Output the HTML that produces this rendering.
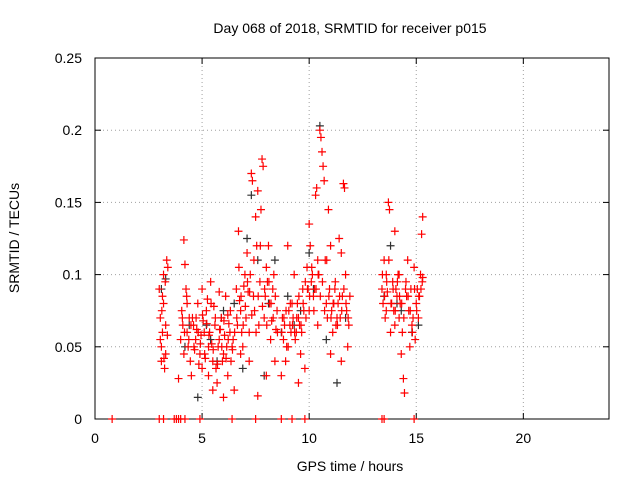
<!DOCTYPE html>
<html><head><meta charset="utf-8">
<style>
html,body{margin:0;padding:0;background:#fff;}
svg{display:block;font-family:"Liberation Sans",sans-serif;}
</style></head>
<body>
<svg id="chart" width="640" height="480" viewBox="0 0 640 480">
<rect x="0" y="0" width="640" height="480" fill="#fff"/>
<text x="350" y="33" text-anchor="middle" font-size="14" fill="#000">Day 068 of 2018, SRMTID for receiver p015</text>
<g id="grid"></g>
<g id="axes"></g>
<g id="marks"></g>
<text x="350" y="471" text-anchor="middle" font-size="14">GPS time / hours</text>
<text transform="translate(19,238) rotate(-90)" text-anchor="middle" font-size="14">SRMTID / TECUs</text>
</svg>
<script>
const xTicks=[0,5,10,15,20];
const yTicks=[0,0.05,0.1,0.15,0.2,0.25];
const yTickLabels=["0","0.05","0.1","0.15","0.2","0.25"];
const redTimes=[3.0,3.05,3.1,3.1,3.15,3.2,3.25,3.3,3.35,3.4,3.3,3.2,3.15,
4.0,4.05,4.1,4.15,4.2,4.25,4.3,4.35,4.4,4.45,4.5,4.3,4.15,3.9,4.6,4.7,4.8,4.9,5.0,5.0,5.1,5.2,5.3,5.4,5.5,5.6,5.7,5.8,5.9,6.0,6.1,6.2,6.3,6.4,6.5,5.5,6.0,5.3,5.8,6.2,
4.55,4.65,4.75,4.85,4.95,5.05,5.15,5.25,5.35,5.45,5.55,5.65,5.75,5.85,5.95,6.05,6.15,6.25,6.35,6.45,
6.6,6.7,6.8,6.9,7.0,7.1,7.2,7.3,7.35,7.4,7.5,7.55,7.6,7.7,7.75,7.8,7.85,7.9,8.0,8.1,8.2,8.3,8.4,8.5,8.0,7.2,6.8,7.6,
6.65,6.75,6.85,6.95,7.05,7.15,7.25,7.45,7.65,7.95,8.05,8.15,8.25,8.35,8.45,
8.7,8.8,8.9,9.0,9.1,9.2,9.3,9.4,9.5,9.6,9.7,9.8,9.9,10.0,10.05,10.1,10.2,10.3,10.35,10.4,10.5,10.55,10.6,10.65,10.7,10.8,10.9,11.0,11.1,11.2,11.3,11.4,11.5,11.6,11.65,11.7,11.8,11.9,11.5,11.0,10.4,10.0,9.5,
8.75,8.85,8.95,9.05,9.15,9.25,9.35,9.45,9.55,9.65,9.75,9.85,9.95,10.15,10.25,10.45,10.75,10.85,10.95,11.05,11.15,11.25,11.35,11.45,11.55,11.75,11.85,
13.4,13.5,13.6,13.7,13.75,13.8,13.9,14.0,14.1,14.2,14.3,14.4,14.45,14.5,14.6,14.7,14.8,14.9,15.0,15.1,15.2,15.3,15.25,15.3,14.2,13.6,14.0,
13.45,13.55,13.65,13.85,13.95,14.05,14.15,14.25,14.35,14.55,14.65,14.75,14.85,14.95,15.05,15.15,
3.05,3.12,3.22,3.28,3.38,4.08,4.18,4.28,4.38,4.48,4.62,4.72,4.82,4.92,5.02,5.12,5.22,5.32,5.42,5.52,5.62,5.72,5.82,5.92,6.02,6.12,6.22,6.32,6.42,6.52,
6.62,6.72,6.82,6.92,7.02,7.12,7.22,7.32,7.42,7.52,7.62,7.72,7.82,7.92,8.02,8.12,8.22,8.32,8.42,8.52,
8.72,8.82,8.92,9.02,9.12,9.22,9.32,9.42,9.52,9.62,9.72,9.82,9.92,10.02,10.12,10.22,10.32,10.42,10.52,10.62,10.72,10.82,10.92,11.02,11.12,11.22,11.32,11.42,11.52,11.62,11.72,11.82,
13.42,13.52,13.62,13.72,13.82,13.92,14.02,14.12,14.22,14.32,14.42,14.52,14.62,14.72,14.82,14.92,15.02,15.12,15.22,15.28];
const redValues=[0.09,0.07,0.05,0.04,0.06,0.08,0.035,0.045,0.11,0.105,0.065,0.1,0.085,
0.055,0.075,0.065,0.124,0.107,0.09,0.06,0.05,0.07,0.04,0.03,0.08,0.045,0.028,0.065,0.055,0.08,0.045,0.035,0.09,0.06,0.075,0.05,0.095,0.04,0.065,0.025,0.055,0.07,0.045,0.085,0.03,0.06,0.05,0.02,0.02,0.015,0.03,0.088,0.072,
0.07,0.048,0.062,0.038,0.058,0.068,0.042,0.083,0.06,0.052,0.078,0.035,0.05,0.062,0.04,0.058,0.05,0.066,0.04,0.055,
0.09,0.13,0.075,0.05,0.1,0.115,0.06,0.17,0.165,0.085,0.14,0.12,0.158,0.095,0.145,0.18,0.175,0.07,0.105,0.12,0.055,0.09,0.04,0.075,0.03,0.04,0.045,0.016,
0.065,0.082,0.06,0.092,0.07,0.088,0.1,0.075,0.065,0.085,0.095,0.08,0.068,0.1,0.062,
0.03,0.055,0.04,0.12,0.065,0.08,0.1,0.06,0.07,0.045,0.09,0.035,0.105,0.135,0.12,0.095,0.085,0.155,0.16,0.11,0.2,0.195,0.185,0.175,0.165,0.08,0.145,0.12,0.06,0.09,0.07,0.125,0.115,0.163,0.16,0.1,0.05,0.085,0.04,0.045,0.065,0.075,0.025,
0.07,0.065,0.05,0.075,0.06,0.07,0.055,0.08,0.065,0.06,0.075,0.07,0.09,0.1,0.09,0.1,0.11,0.07,0.09,0.075,0.08,0.065,0.08,0.07,0.085,0.075,0.065,
0.09,0.11,0.075,0.15,0.145,0.06,0.095,0.13,0.085,0.07,0.045,0.028,0.018,0.09,0.11,0.05,0.065,0.105,0.08,0.07,0.1,0.14,0.128,0.098,0.1,0.1,0.065,
0.08,0.07,0.088,0.08,0.075,0.09,0.1,0.08,0.06,0.085,0.075,0.09,0.07,0.055,0.09,0.085,
0.055,0.075,0.042,0.095,0.058,0.07,0.06,0.085,0.055,0.065,0.05,0.07,0.06,0.052,0.072,0.045,0.066,0.058,0.08,0.048,0.07,0.038,0.062,0.05,0.068,0.042,0.055,0.075,0.048,0.06,
0.07,0.105,0.085,0.065,0.078,0.095,0.088,0.072,0.11,0.06,0.085,0.12,0.078,0.09,0.065,0.095,0.08,0.07,0.085,0.06,
0.06,0.07,0.075,0.05,0.08,0.065,0.06,0.07,0.085,0.065,0.08,0.095,0.09,0.085,0.105,0.075,0.09,0.1,0.085,0.095,0.075,0.11,0.085,0.07,0.08,0.095,0.065,0.085,0.075,0.09,0.08,0.07,
0.1,0.085,0.095,0.11,0.08,0.09,0.075,0.095,0.085,0.08,0.07,0.095,0.085,0.075,0.06,0.09,0.075,0.085,0.09,0.095];
const blackTimes=[3.1,3.3,4.2,4.8,5.2,5.7,6.0,6.5,7.1,7.3,7.6,7.9,8.4,8.7,9.0,9.6,10.0,10.5,10.8,11.3,11.7,13.5,13.8,14.3,14.8,15.1,6.9,5.4,4.4,5.9,8.1,9.3,10.2,14.1];
const blackValues=[0.09,0.097,0.05,0.015,0.065,0.04,0.075,0.08,0.125,0.155,0.11,0.03,0.11,0.06,0.085,0.075,0.115,0.203,0.055,0.025,0.07,0.085,0.12,0.075,0.06,0.065,0.035,0.055,0.065,0.07,0.08,0.065,0.09,0.08];
const zeroTimes=[0.8,3.0,3.2,3.7,3.8,3.9,4.0,4.2,4.9,6.4,7.5,8.7,9.2,9.8,13.4,13.5,14.9];

const X0=95,X1=609,Y0=419,Y1=58;
const xs=t=>X0+t/24*(X1-X0);
const ys=v=>Y0-v/0.25*(Y0-Y1);
const NS="http://www.w3.org/2000/svg";
function mk(tag,attrs,parent){const e=document.createElementNS(NS,tag);for(const k in attrs)e.setAttribute(k,attrs[k]);parent.appendChild(e);return e;}
const grid=document.getElementById('grid'),axes=document.getElementById('axes'),marks=document.getElementById('marks');
xTicks.forEach(t=>{
  const x=xs(t);
  if(t>0){const l=mk('line',{x1:x,x2:x,y1:Y1,y2:Y0,stroke:'#a0a0a0','stroke-dasharray':'1,3'},grid);
  
  }
  mk('line',{x1:x,x2:x,y1:Y0,y2:Y0-6,stroke:'#000'},axes);
  mk('line',{x1:x,x2:x,y1:Y1,y2:Y1+6,stroke:'#000'},axes);
  const tx=mk('text',{x:x,y:443,'text-anchor':'middle','font-size':14},axes);tx.textContent=t;
  
  
});
yTicks.forEach((v,i)=>{
  const y=ys(v);
  if(v>0&&v<0.25){const l=mk('line',{x1:X0,x2:X1,y1:y,y2:y,stroke:'#a0a0a0','stroke-dasharray':'1,3'},grid);
  
  }
  mk('line',{x1:X0,x2:X0+6,y1:y,y2:y,stroke:'#000'},axes);
  mk('line',{x1:X1,x2:X1-6,y1:y,y2:y,stroke:'#000'},axes);
  const tx=mk('text',{x:82,y:y+5,'text-anchor':'end','font-size':14},axes);tx.textContent=yTickLabels[i];
  
  
});
const fr=mk('rect',{x:X0,y:Y1,width:X1-X0,height:Y0-Y1,fill:'none',stroke:'#000'},axes);


function plus(t,v,c,name){
  const x=xs(t),y=ys(v);
  const p=mk('path',{d:`M${x-4},${y}H${x+4}M${x},${y-4}V${y+4}`,stroke:c,'stroke-width':1.2,fill:'none'},marks);
  
  
}
blackTimes.forEach((t,i)=>plus(t,blackValues[i],'#303030','black-point'));
redTimes.forEach((t,i)=>plus(t,redValues[i],'#ff0000','red-point'));
zeroTimes.forEach(t=>plus(t,0,'#ff0000','zero-point'));
</script>
</body></html>
